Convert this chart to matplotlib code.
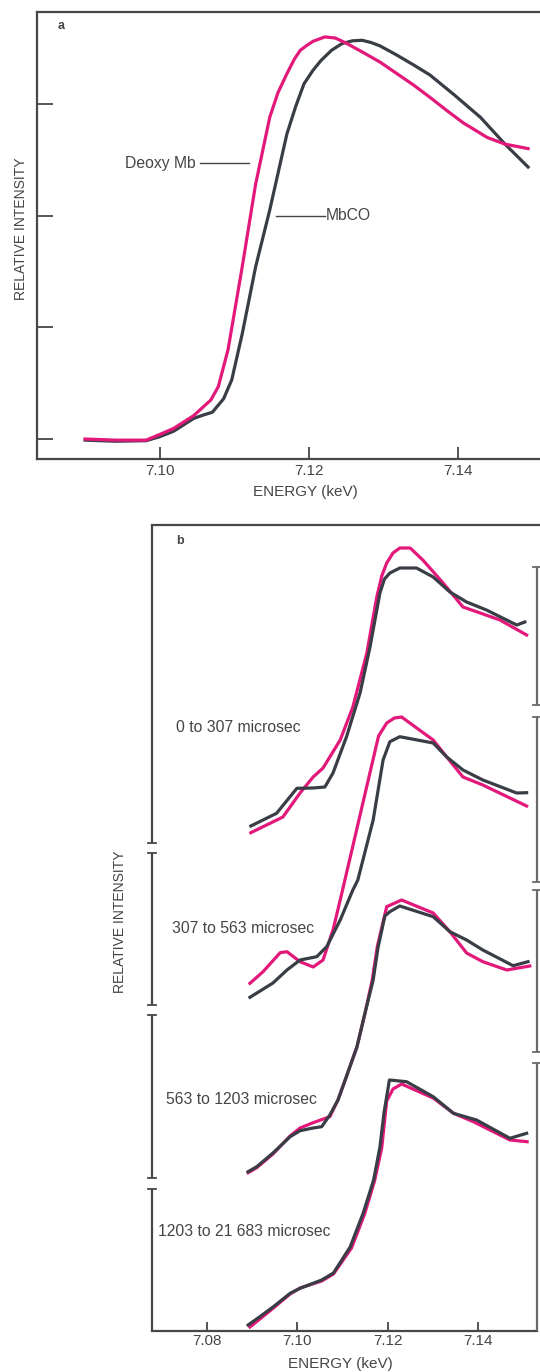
import matplotlib
matplotlib.use("Agg")
import matplotlib.pyplot as plt

plt.rcParams["font.family"] = ["Liberation Sans", "DejaVu Sans"]

PINK = "#e3187b"
DARK = "#393d46"
AXC = "#474747"
TXT = "#454545"

# ---- panel a : Deoxy Mb vs MbCO ----
a_deoxy_e = [7.0899, 7.0940, 7.0981, 7.0999, 7.1018, 7.1045, 7.1068, 7.1078, 7.1091,
             7.1100, 7.1110, 7.1128, 7.1147, 7.1158, 7.1170, 7.1180, 7.1188, 7.1196,
             7.1205, 7.1221, 7.1235, 7.1248, 7.1270, 7.1295, 7.1340, 7.1362, 7.1385,
             7.1407, 7.1439, 7.1463, 7.1494]
a_deoxy_i = [0.00, -0.01, -0.01, 0.04, 0.095, 0.21, 0.35, 0.47, 0.80,
             1.15, 1.54, 2.28, 2.88, 3.10, 3.27, 3.40, 3.48, 3.52,
             3.56, 3.60, 3.59, 3.55, 3.47, 3.375, 3.17, 3.06, 2.94,
             2.83, 2.70, 2.64, 2.60]
a_mbco_e = [7.0899, 7.0940, 7.0981, 7.0999, 7.1018, 7.1045, 7.1058, 7.1070, 7.1085,
            7.1096, 7.1110, 7.1128, 7.1147, 7.1170, 7.1182, 7.1193, 7.1205, 7.1216,
            7.1230, 7.1244, 7.1258, 7.1271, 7.1283, 7.1295, 7.1317, 7.1340, 7.1362,
            7.1395, 7.1430, 7.1463, 7.1494]
a_mbco_i = [-0.01, -0.02, -0.015, 0.02, 0.07, 0.185, 0.215, 0.24, 0.36,
            0.53, 0.94, 1.54, 2.05, 2.73, 2.98, 3.18, 3.30, 3.39,
            3.48, 3.54, 3.565, 3.57, 3.55, 3.52, 3.44, 3.35, 3.26,
            3.08, 2.88, 2.64, 2.435]
a_yticks = [0, 1, 2, 3]
a_xticks = [7.10, 7.12, 7.14]

# ---- panel b : time-resolved spectra (stacked) ----
b_labels = ["0 to 307 microsec", "307 to 563 microsec",
            "563 to 1203 microsec", "1203 to 21 683 microsec"]

b1_dark_e = [7.0897, 7.0954, 7.0999, 7.1035, 7.1061, 7.1079, 7.1109, 7.1139, 7.1161,
             7.1183, 7.1193, 7.1205, 7.1227, 7.1264, 7.1301, 7.1338, 7.1375, 7.1419,
             7.1486, 7.1504]
b1_dark_i = [5.05, 5.177, 5.427, 5.43, 5.44, 5.58, 5.943, 6.38, 6.84,
             7.38, 7.52, 7.58, 7.63, 7.63, 7.54, 7.39, 7.29, 7.21,
             7.06, 7.09]
b1_pink_e = [7.0897, 7.0968, 7.1006, 7.1035, 7.1057, 7.1095, 7.1123, 7.1154, 7.1176,
             7.1187, 7.1198, 7.1212, 7.1227, 7.1250, 7.1278, 7.1323, 7.1367, 7.1405,
             7.1449, 7.1508]
b1_pink_i = [4.983, 5.14, 5.38, 5.54, 5.63, 5.91, 6.24, 6.78, 7.34,
             7.55, 7.68, 7.78, 7.83, 7.83, 7.71, 7.48, 7.24, 7.18,
             7.11, 6.96]

b2_dark_e = [7.0895, 7.0946, 7.0977, 7.1006, 7.1043, 7.1065, 7.1095, 7.1123, 7.1134,
             7.1168, 7.1190, 7.1205, 7.1227, 7.1301, 7.1331, 7.1367, 7.1411, 7.1486, 7.1508]
b2_dark_i = [3.337, 3.48, 3.61, 3.71, 3.743, 3.843, 4.11, 4.41, 4.51,
             5.11, 5.71, 5.893, 5.943, 5.88, 5.74, 5.61, 5.51, 5.38, 5.383]
b2_pink_e = [7.0895, 7.0924, 7.0962, 7.0977, 7.1006, 7.1035, 7.1057, 7.1079, 7.1095,
             7.1123, 7.1154, 7.1180, 7.1198, 7.1215, 7.1231, 7.1301, 7.1331, 7.1367,
             7.1411, 7.1508]
b2_pink_i = [3.477, 3.593, 3.783, 3.793, 3.693, 3.64, 3.71, 4.01, 4.31,
             4.85, 5.45, 5.95, 6.08, 6.13, 6.14, 5.91, 5.74, 5.54,
             5.46, 5.25]

b3_dark_e = [7.0891, 7.0910, 7.0946, 7.0984, 7.1006, 7.1035, 7.1054, 7.1072, 7.1090,
             7.1106, 7.1132, 7.1150, 7.1168, 7.1179, 7.1194, 7.1205, 7.1227, 7.1301,
             7.1338, 7.1375, 7.1411, 7.1478, 7.1511]
b3_dark_i = [1.593, 1.643, 1.78, 1.943, 2.003, 2.03, 2.043, 2.16, 2.31,
             2.51, 2.84, 3.18, 3.51, 3.84, 4.15, 4.193, 4.25, 4.143,
             3.993, 3.91, 3.81, 3.653, 3.693]
b3_pink_e = [7.0891, 7.0910, 7.0946, 7.0984, 7.1006, 7.1035, 7.1072, 7.1090, 7.1106,
             7.1132, 7.1150, 7.1166, 7.1177, 7.1198, 7.1231, 7.1301, 7.1338, 7.1375,
             7.1411, 7.1464, 7.1515]
b3_pink_i = [1.583, 1.633, 1.77, 1.95, 2.03, 2.083, 2.143, 2.31, 2.51,
             2.84, 3.18, 3.51, 3.84, 4.243, 4.31, 4.18, 3.993, 3.78,
             3.693, 3.61, 3.65]

b4_dark_e = [7.0891, 7.0917, 7.0947, 7.0984, 7.1006, 7.1054, 7.1080, 7.1117, 7.1146,
             7.1169, 7.1183, 7.1192, 7.1204, 7.1242, 7.1301, 7.1346, 7.1397, 7.1471, 7.1508]
b4_dark_i = [0.06, 0.143, 0.243, 0.377, 0.427, 0.51, 0.58, 0.84, 1.18,
             1.51, 1.84, 2.18, 2.51, 2.493, 2.343, 2.177, 2.11, 1.927, 1.977]
b4_pink_e = [7.0895, 7.0917, 7.0947, 7.0984, 7.1006, 7.1054, 7.1080, 7.1120, 7.1149,
             7.1171, 7.1187, 7.1198, 7.1212, 7.1231, 7.1301, 7.1346, 7.1390, 7.1471, 7.1509]
b4_pink_i = [0.04, 0.12, 0.23, 0.37, 0.43, 0.50, 0.57, 0.83, 1.17,
             1.50, 1.83, 2.30, 2.42, 2.47, 2.33, 2.177, 2.093, 1.91, 1.893]

b_xticks = [7.08, 7.10, 7.12, 7.14]

# bracket ranges on the stacked axis (left: panel b, right: cropped panel c)
b_brackets = [(4.88, 8.06), (3.26, 4.78), (1.53, 3.16), (0.0, 1.42)]
c_brackets = [(6.26, 7.64), (4.49, 6.14), (2.79, 4.41), (0.0, 2.68)]

W, H = 540, 1372
fig = plt.figure(figsize=(W / 100, H / 100), dpi=100)
fig.patch.set_facecolor("white")


def style_axes(ax, xlen):
    for s in ax.spines.values():
        s.set_color(AXC)
        s.set_linewidth(1.6)
    ax.spines["right"].set_visible(False)
    ax.tick_params(axis="x", direction="in", length=xlen, width=1.3, color=AXC,
                   labelsize=11, labelcolor=TXT, pad=3.5)


# ---------------- panel a ----------------
ax = fig.add_axes([36.7 / W, 1 - 459 / H, 1 - 36.7 / W, (459 - 12) / H])
ax.plot(a_deoxy_e, a_deoxy_i, color=PINK, lw=2.3, solid_joinstyle="round", zorder=3)
ax.plot(a_mbco_e, a_mbco_i, color=DARK, lw=2.3, solid_joinstyle="round", zorder=2)
ax.set_xlim(7.0834, 7.1510)
ax.set_ylim(-0.179, 3.823)
style_axes(ax, 8.6)
ax.set_xticks(a_xticks)
ax.set_xticklabels([f"{t:.2f}" for t in a_xticks])
ax.set_yticks(a_yticks)
ax.set_yticklabels([])
ax.tick_params(axis="y", direction="in", length=11.5, width=1.3, color=AXC)
ax.text(61 / W, 1 - 26 / H, "a", transform=fig.transFigure, fontsize=9,
        fontweight="bold", color=TXT, ha="center", va="center")
# curve labels
ax.text(7.1048, 2.47, "Deoxy Mb", fontsize=11.3, color=TXT, ha="right", va="center")
ax.plot([7.1054, 7.1119], [2.47, 2.47], color=TXT, lw=1.0)
ax.text(7.1222, 2.0, "MbCO", fontsize=11.3, color=TXT, ha="left", va="center")
ax.plot([7.1155, 7.1221], [2.0, 2.0], color=TXT, lw=1.0)
fig.text(21 / W, 1 - 229 / H, "RELATIVE INTENSITY", rotation=90, fontsize=10,
         color=TXT, ha="center", va="center")
fig.text(305.5 / W, 1 - 492 / H, "ENERGY (keV)", fontsize=11, color=TXT,
         ha="center", va="center")

# ---------------- panel b ----------------
bx = fig.add_axes([152 / W, 1 - 1331 / H, (537 - 152) / W, (1331 - 525) / H])
traces = [(b1_dark_e, b1_dark_i, b1_pink_e, b1_pink_i),
          (b2_dark_e, b2_dark_i, b2_pink_e, b2_pink_i),
          (b3_dark_e, b3_dark_i, b3_pink_e, b3_pink_i),
          (b4_dark_e, b4_dark_i, b4_pink_e, b4_pink_i)]
for de, di, pe, pi in traces:
    bx.plot(pe, pi, color=PINK, lw=2.3, solid_joinstyle="round", zorder=2)
    bx.plot(de, di, color=DARK, lw=2.3, solid_joinstyle="round", zorder=3)

x0, x1 = 7.0678, 7.1531
bx.set_xlim(x0, x1)
bx.set_ylim(0, 8.06)
style_axes(bx, 6.5)
bx.spines["left"].set_visible(False)
bx.spines["top"].set_bounds(x0, 7.16)
bx.set_xticks(b_xticks)
bx.set_xticklabels([f"{t:.2f}" for t in b_xticks])
bx.tick_params(axis="x", pad=2.5)
bx.set_yticks([])

serif = 0.0009
for xs, brs, col in [(x0, b_brackets, AXC), (x1, c_brackets, "#6a6a6a")]:
    for lo, hi in brs:
        bx.plot([xs, xs], [lo, hi], color=col, lw=1.6, clip_on=False, zorder=4,
                solid_capstyle="butt")
        for yy in (lo, hi):
            if 0.0 < yy < 8.06:
                bx.plot([xs - serif, xs + serif], [yy, yy], color=col, lw=1.3,
                        clip_on=False, zorder=4)

label_pos = [(7.0731, 6.03), (7.0722, 4.027), (7.0709, 2.32), (7.0691, 1.00)]
for (lx, ly), lab in zip(label_pos, b_labels):
    bx.text(lx, ly, lab, fontsize=11.3, color=TXT, ha="left", va="center")

fig.text(180 / W, 1 - 541 / H, "b", fontsize=9, fontweight="bold", color=TXT,
         ha="center", va="center")
fig.text(120 / W, 1 - 922 / H, "RELATIVE INTENSITY", rotation=90, fontsize=10,
         color=TXT, ha="center", va="center")
fig.text(340 / W, 1 - 1364 / H, "ENERGY (keV)", fontsize=11, color=TXT,
         ha="center", va="center")

fig.savefig("out.png", dpi=100, facecolor="white")
